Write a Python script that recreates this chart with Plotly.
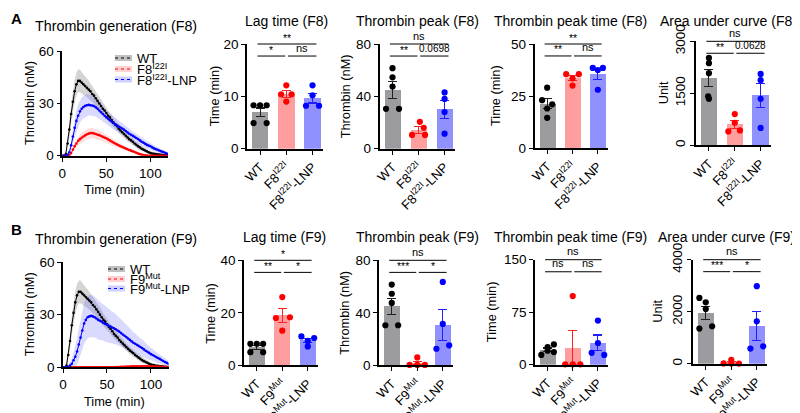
import numpy as np
import plotly.graph_objects as go

W, H = 800, 413
FONT = "Liberation Sans, Arial, sans-serif"

# ---------------- data ----------------
time_min = list(range(0, 121, 2))

wt_mean = [0, 0, 1, 7, 15, 24, 31, 37, 41, 43,
           43, 42, 41, 40, 39, 38, 37, 35.5, 34.5, 33,
           31.5, 30, 28.5, 27, 26, 24.5, 23, 22, 20.5, 19,
           18, 17, 15.5, 14.5, 13.5, 12.5, 11.5, 10.5, 9.5, 8.8,
           8, 7, 6.3, 5.5, 4.8, 4, 3.5, 3, 2.5, 2,
           1.5, 1.3, 1.1, 0.9, 0.8, 0.6, 0.5, 0.4, 0.3, 0.2, 0.2]
wt_sem = [0, 0, 1, 3, 4.5, 5.5, 6, 6.5, 6.5, 6.5,
          6.5, 6, 6, 5.5, 5.5, 5, 5, 4.5, 4.5, 4.5,
          4, 4, 4, 3.5, 3.5, 3.5, 3, 3, 3, 3,
          2.8, 2.8, 2.5, 2.5, 2.5, 2.3, 2.3, 2, 2, 2,
          2, 1.8, 1.8, 1.6, 1.6, 1.5, 1.5, 1.3, 1.3, 1.2,
          1.2, 1, 1, 1, 0.8, 0.8, 0.7, 0.7, 0.6, 0.6, 0.5]

f8_mean = [0, 0, 0, 0, 0.3, 1.5, 3.5, 5.5, 7, 8.5,
           9.5, 10.3, 11, 11.7, 12.3, 12.7, 13, 13, 12.8, 12.5,
           12, 11.8, 11.3, 10.8, 10.4, 10, 9.4, 8.8, 8.2, 7.6,
           7, 6.5, 6, 5.5, 5, 4.5, 4.1, 3.7, 3.3, 2.9,
           2.5, 2.1, 1.7, 1.3, 0.9, 0.6, 0.4, 0.2, 0.1, 0,
           0, 0, 0, 0, 0, 0, 0, 0, 0, 0, 0]
f8_sem = [0, 0, 0, 0, 0.3, 1, 1.5, 2, 2.3, 2.5,
          2.7, 2.8, 3, 3, 3, 3, 3, 3, 3, 3,
          3, 2.8, 2.8, 2.6, 2.5, 2.4, 2.3, 2.2, 2, 2,
          1.8, 1.7, 1.6, 1.5, 1.4, 1.3, 1.2, 1.1, 1, 1,
          0.9, 0.8, 0.7, 0.6, 0.5, 0.4, 0.3, 0.2, 0.1, 0,
          0, 0, 0, 0, 0, 0, 0, 0, 0, 0, 0]

f8lnp_mean = [0, 0, 0, 0.5, 2, 6, 11, 16, 20, 23,
              25.5, 27, 28, 28.7, 29, 29.2, 29, 28.8, 28.5, 27.8,
              27, 26, 25, 24, 23, 22, 21.2, 20.4, 19.6, 18.8,
              18, 17.4, 16.8, 16.2, 15.6, 15, 14.2, 13.4, 12.6, 12,
              11.4, 10.8, 10.2, 9.6, 8.8, 8, 7.4, 6.8, 6.2, 5.8,
              5.4, 4.8, 4.2, 3.8, 3.4, 3, 2.6, 2.2, 1.8, 1.4, 1]
f8lnp_sem = [0, 0, 0, 0.5, 1.5, 3, 4.5, 5.5, 6, 6.5,
             6.5, 6.5, 6.5, 6.5, 6.5, 6, 6, 6, 5.5, 5.5,
             5, 5, 4.5, 4.5, 4.5, 4, 4, 4, 3.8, 3.8,
             3.5, 3.5, 3.3, 3.3, 3.2, 3, 3, 2.8, 2.8, 2.6,
             2.5, 2.5, 2.4, 2.4, 2.3, 2.2, 2.2, 2, 2, 2,
             1.9, 1.8, 1.7, 1.6, 1.5, 1.4, 1.3, 1.2, 1.1, 1, 1]

f9_mean = [0, 0, 0, 0, 0, 0, 0, 0, 0, 0,
           0, 0, 0, 0, 0, 0, 0, 0, 0, 0,
           0, 0, 0, 0, 0, 0, 0, 0, 0, 0,
           0.1, 0.2, 0.2, 0.3, 0.3, 0.3, 0.4, 0.4, 0.4, 0.5,
           0.5, 0.5, 0.5, 0.6, 0.6, 0.6, 0.6, 0.6, 0.5, 0.5,
           0.5, 0.5, 0.4, 0.4, 0.4, 0.3, 0.3, 0.3, 0.2, 0.2, 0.2]
f9_sem = [0, 0, 0, 0, 0, 0, 0, 0, 0, 0,
          0, 0, 0, 0, 0, 0, 0, 0, 0, 0,
          0, 0, 0, 0, 0, 0, 0, 0, 0, 0,
          0.2, 0.2, 0.3, 0.3, 0.3, 0.4, 0.4, 0.4, 0.5, 0.5,
          0.5, 0.5, 0.5, 0.5, 0.5, 0.5, 0.5, 0.5, 0.5, 0.5,
          0.4, 0.4, 0.4, 0.4, 0.3, 0.3, 0.3, 0.3, 0.2, 0.2, 0.2]

f9lnp_mean = [0, 0, 0, 0.3, 1, 2, 4, 6, 9, 13,
              17, 21, 25, 27, 28.5, 29, 29.3, 29, 28.5, 27.8,
              27, 26.5, 26, 25.3, 24.7, 24.2, 23.7, 23.2, 22.7, 22.2,
              21.7, 21, 20.3, 19.5, 18.7, 18, 17.2, 16.4, 15.6, 14.8,
              14, 13.4, 12.8, 12.2, 11.6, 11, 10.2, 9.4, 8.8, 8.2,
              7.5, 7, 6.4, 5.8, 5.3, 4.8, 4.2, 3.6, 3, 2.5, 2]
f9lnp_sem = [0, 0, 0, 0.5, 1.5, 3, 4.5, 6, 7.5, 9,
             10, 11, 11.5, 12, 12, 12, 12, 12, 11.5, 11.5,
             11, 11, 10.5, 10.5, 10, 10, 9.5, 9.5, 9, 9,
             8.5, 8.5, 8, 8, 7.5, 7.5, 7, 7, 6.5, 6.5,
             6, 6, 5.5, 5.5, 5, 5, 4.5, 4.5, 4, 4,
             3.5, 3.5, 3, 3, 2.8, 2.6, 2.4, 2.2, 2, 1.8, 1.6]

groups_f8 = ["WT", "F8<sup>I22I</sup>", "F8<sup>I22I</sup>-LNP"]
groups_f9 = ["WT", "F9<sup>Mut</sup>", "F9<sup>Mut</sup>-LNP"]

# individual animals (WT, mutant, mutant-LNP)
lag_f8 = [[8.3, 8.3, 8.3, 4.9, 4.9], [12.1, 10.4, 10.4, 9.0], [12.1, 10.2, 8.2, 8.2]]
peak_f8 = [[61.5, 54.5, 47.5, 30.5, 30.5], [20.5, 16.0, 10.5, 10.5], [43.0, 38.0, 28.0, 11.5]]
ptime_f8 = [[29.0, 23.0, 21.0, 19.0, 14.5], [35.5, 35.5, 33.5, 30.0], [38.5, 38.5, 37.5, 28.0]]
auc_f8 = [[2520, 2370, 2080, 1410, 1340], [900, 650, 400, 430], [2060, 1880, 1340, 500]]

lag_f9 = [[8.2, 8.2, 8.2, 5.0, 5.0], [26.0, 18.3, 18.0, 13.2], [11.0, 10.4, 9.3, 7.2]]
peak_f9 = [[61.5, 54.5, 47.5, 30.5, 30.5], [6.0, 0.3, 0.3, 0.3], [63.5, 31.5, 15.2, 12.6]]
ptime_f9 = [[29.0, 25.0, 20.0, 18.0, 14.0], [98.0, 0.5, 0.5, 0.5], [63.0, 31.0, 17.0, 14.0]]
auc_f9 = [[2530, 2360, 2100, 1440, 1350], [150, 10, 5, 5], [2980, 1630, 670, 580]]

# significance labels: (WT vs LNP, WT vs mutant, mutant vs LNP)
sig_lag_f8 = ["**", "*", "ns"]
sig_peak_f8 = ["ns", "**", "0.0698"]
sig_ptime_f8 = ["**", "**", "ns"]
sig_auc_f8 = ["ns", "**", "0.0628"]
sig_lag_f9 = ["*", "**", "*"]
sig_peak_f9 = ["ns", "***", "*"]
sig_ptime_f9 = ["ns", "ns", "ns"]
sig_auc_f9 = ["ns", "***", "*"]

# ---------------- styling / layout ----------------
C_DOT = ["#000000", "#ff0000", "#0000ff"]
C_BAR = ["#9c9ca0", "#ff9e9e", "#9090ff"]
C_ERR = ["#202020", "#ff2020", "#2020ff"]
TITLE_SIZE = 14

jit = {
    "lag_f8": [[-0.25, 0, 0.25, -0.25, 0.25], [0, -0.2, 0.2, 0], [0, 0, -0.25, 0.25]],
    "peak_f8": [[0, 0, 0, -0.25, 0.25], [0.05, 0.2, -0.25, 0.25], [0, 0, 0, 0]],
    "ptime_f8": [[0, -0.2, 0.2, 0, 0], [-0.25, 0.25, 0, 0], [-0.2, 0.2, 0, 0]],
    "auc_f8": [[0, 0, 0, -0.03, 0], [0, 0, -0.25, 0.2], [0, 0, 0, 0]],
    "lag_f9": [[-0.25, 0, 0.25, -0.25, 0.25], [0, 0.3, -0.25, 0], [-0.25, 0.25, 0, 0]],
    "peak_f9": [[0, 0, 0, -0.25, 0.25], [0, -0.3, 0, 0.3], [0, 0, 0.25, -0.25]],
    "ptime_f9": [[0.25, 0, 0, 0.25, -0.25], [0, -0.3, 0, 0.3], [0, 0, -0.25, 0.25]],
    "auc_f9": [[-0.25, 0, 0, 0.25, -0.25], [0, -0.3, 0, 0.3], [0, 0, 0.25, -0.25]],
}

XR_BAR = [-0.5, 2.4]
# name, data, sig, groups, box px (l, r, t, b), yrange, yticks, ytitle, tick angle,
# title, title x, title y, ytitle x
bar_panels = [
    ("lag_f8", lag_f8, sig_lag_f8, groups_f8, (239, 315, 36, 140.7), [0, 20], [0, 10, 20], "Time (min)", 0, "Lag time (F8)", 278, 13, 206),
    ("peak_f8", peak_f8, sig_peak_f8, groups_f8, (371.5, 447, 36, 140.7), [0, 80], [0, 40, 80], "Thrombin (nM)", 0, "Thrombin peak (F8)", 409, 13, 337),
    ("ptime_f8", ptime_f8, sig_ptime_f8, groups_f8, (526.5, 600, 36, 140), [0, 50], [0, 25, 50], "Time (min)", 0, "Thrombin peak time (F8)", 562, 13, 487),
    ("auc_f8", auc_f8, sig_auc_f8, groups_f8, (688, 763, 33.3, 137.3), [0, 3000], [0, 1500, 3000], "Unit", -90, "Area under curve (F8)", 720, 13, 655),
    ("lag_f9", lag_f9, sig_lag_f9, groups_f9, (236, 310, 252.3, 357.3), [0, 40], [0, 20, 40], "Time (min)", 0, "Lag time (F9)", 276, 229, 203),
    ("peak_f9", peak_f9, sig_peak_f9, groups_f9, (371, 445, 252.3, 357.3), [0, 80], [0, 40, 80], "Thrombin (nM)", 0, "Thrombin peak (F9)", 409, 229, 337),
    ("ptime_f9", ptime_f9, sig_ptime_f9, groups_f9, (527, 600, 251.7, 356.7), [0, 150], [0, 75, 150], "Time (min)", 0, "Thrombin peak time (F9)", 562, 229, 483),
    ("auc_f9", auc_f9, sig_auc_f9, groups_f9, (685, 759, 251.7, 355.7), [0, 4000], [0, 2000, 4000], "Unit", -90, "Area under curve (F9)", 718, 229, 650),
]

curve_panels = [
    # box, series list, title, title y, legend names, legend y px, legend x px, x-title y
    ((54.3, 160, 43.3, 147.7),
     [(wt_mean, wt_sem, "#000000", "rgba(150,150,150,0.40)", "rgba(150,150,150,0.6)"),
      (f8_mean, f8_sem, "#ff0000", "rgba(255,110,110,0.22)", "rgba(255,110,110,0.3)"),
      (f8lnp_mean, f8lnp_sem, "#0000ff", "rgba(100,100,255,0.24)", "rgba(100,100,255,0.3)")],
     "Thrombin generation (F8)", 18, ["WT", "F8<sup>I22I</sup>", "F8<sup>I22I</sup>-LNP"],
     [50, 61, 71.5], 107, 182),
    ((55, 160.5, 254, 359.3),
     [(wt_mean, wt_sem, "#000000", "rgba(150,150,150,0.40)", "rgba(150,150,150,0.6)"),
      (f9_mean, f9_sem, "#ff0000", "rgba(255,110,110,0.22)", "rgba(255,110,110,0.3)"),
      (f9lnp_mean, f9lnp_sem, "#0000ff", "rgba(100,100,255,0.24)", "rgba(100,100,255,0.3)")],
     "Thrombin generation (F9)", 230.5, ["WT", "F9<sup>Mut</sup>", "F9<sup>Mut</sup>-LNP"],
     [261, 271, 280.5], 100, 393),
]


def px2x(px):
    return px / W


def px2y(py):
    return 1 - py / H


def ann(text, xpx, ypx, size, xanchor="center", yanchor="middle", angle=0, **kw):
    d = dict(text=text, x=px2x(xpx), y=px2y(ypx), xref="paper", yref="paper", showarrow=False,
             xanchor=xanchor, yanchor=yanchor, textangle=angle, font=dict(size=size))
    d.update(kw)
    return d


fig = go.Figure()
layout = dict(
    width=W, height=H, margin=dict(l=0, r=0, t=0, b=0, pad=0),
    paper_bgcolor="white", plot_bgcolor="white", showlegend=False,
    template="none", font=dict(family=FONT, size=13, color="black"),
)
shapes, annotations = [], []

axis_common = dict(showline=True, linecolor="black", linewidth=1.6, ticks="outside",
                   ticklen=4, tickwidth=1.4, tickcolor="black", showgrid=False,
                   zeroline=False, automargin=False, tickfont=dict(family=FONT, size=13.5))

ax_i = 0


def new_axes(box, xr, yr):
    global ax_i
    ax_i += 1
    sfx = "" if ax_i == 1 else str(ax_i)
    l, r, t, b = box
    xa = dict(axis_common, domain=[px2x(l), px2x(r)], range=xr, anchor="y" + sfx)
    ya = dict(axis_common, domain=[px2y(b), px2y(t)], range=yr, anchor="x" + sfx)
    return sfx, xa, ya


# ---- curve panels ----
for box, series, title, ty, names, leg_y, leg_x, xty in curve_panels:
    sfx, xa, ya = new_axes(box, [0, 120], [0, 60])
    xa.update(tickvals=[0, 50, 100])
    ya.update(tickvals=[0, 30, 60])
    layout["xaxis" + sfx] = xa
    layout["yaxis" + sfx] = ya
    for mean, sem, col, band, legband in series:
        m = np.array(mean, float)
        s = np.array(sem, float)
        up = m + s
        lo = np.clip(m - s, 0, None)
        fig.add_trace(go.Scatter(x=time_min + time_min[::-1], y=list(up) + list(lo[::-1]),
                                 fill="toself", fillcolor=band, line=dict(width=0),
                                 mode="lines", hoverinfo="skip", xaxis="x" + sfx, yaxis="y" + sfx))
    for mean, sem, col, band, legband in series:
        fig.add_trace(go.Scatter(x=time_min, y=mean, mode="lines+markers",
                                 line=dict(color=col, width=1), marker=dict(color=col, size=2.6),
                                 xaxis="x" + sfx, yaxis="y" + sfx, cliponaxis=True))
    l, r, t, b = box
    annotations.append(ann(title, 108, ty, TITLE_SIZE + 0.3))
    annotations.append(ann("Time (min)", (l + r) / 2 - 1, xty, 12.8))
    annotations.append(ann("Thrombin (nM)", 21.5, (t + b) / 2, 12.8, angle=-90))
    # legend
    for (mean, sem, col, band, legband), nm, ly in zip(series, names, leg_y):
        shapes.append(dict(type="line", xref="paper", yref="paper", x0=px2x(leg_x), x1=px2x(leg_x + 17),
                           y0=px2y(ly), y1=px2y(ly), line=dict(color=legband, width=6)))
        shapes.append(dict(type="line", xref="paper", yref="paper", x0=px2x(leg_x), x1=px2x(leg_x + 17),
                           y0=px2y(ly), y1=px2y(ly), line=dict(color=col, width=1.2, dash="dot")))
        annotations.append(ann(nm, leg_x + 20, ly, 13, xanchor="left"))

# ---- bar panels ----
for key, vals, sig, groups, box, yr, yt, ytitle, yang, title, tx, ty, ytx in bar_panels:
    sfx, xa, ya = new_axes(box, XR_BAR, yr)
    xa.update(tickvals=[0, 1, 2], ticktext=groups, tickangle=-45, tickfont=dict(family=FONT, size=13))
    ya.update(tickvals=yt, tickangle=yang)
    layout["xaxis" + sfx] = xa
    layout["yaxis" + sfx] = ya
    means = [float(np.mean(v)) for v in vals]
    sems = [float(np.std(v, ddof=1) / np.sqrt(len(v))) for v in vals]
    for g in range(3):
        fig.add_trace(go.Bar(x=[g], y=[means[g]], width=0.64, marker=dict(color=C_BAR[g], line=dict(width=0)),
                             error_y=dict(type="data", array=[sems[g]], color=C_ERR[g], thickness=1.1, width=4.5),
                             xaxis="x" + sfx, yaxis="y" + sfx))
    for g in range(3):
        fig.add_trace(go.Scatter(x=[g + o for o in jit[key][g]], y=vals[g], mode="markers",
                                 marker=dict(color=C_DOT[g], size=6.2), cliponaxis=False,
                                 xaxis="x" + sfx, yaxis="y" + sfx))
    l, r, t, b = box

    def dxp(v):
        return l + (v - XR_BAR[0]) / (XR_BAR[1] - XR_BAR[0]) * (r - l)

    def dyp(v):
        return b - (v - yr[0]) / (yr[1] - yr[0]) * (b - t)

    top = yr[1]
    low = yr[1] * 0.885
    brackets = [(-0.1, 2.15, top, sig[0]), (-0.1, 0.96, low, sig[1]), (1.06, 2.15, low, sig[2])]
    for x0, x1, yv, s in brackets:
        shapes.append(dict(type="line", xref="paper", yref="paper", x0=px2x(dxp(x0)), x1=px2x(dxp(x1)),
                           y0=px2y(dyp(yv)), y1=px2y(dyp(yv)), line=dict(color="black", width=1)))
        fs = 11 if s == "ns" else (10 if s.startswith("0") else 10.5)
        annotations.append(ann(s, (dxp(x0) + dxp(x1)) / 2, dyp(yv) - 0.5, fs, yanchor="bottom",
                               yshift=-2 if "*" in s else 0))
    annotations.append(ann(title, tx, ty, TITLE_SIZE))
    annotations.append(ann(ytitle, ytx, (t + b) / 2, 12.8, angle=-90))

# panel letters
annotations.append(ann("<b>A</b>", 8, 10, 15))
annotations.append(ann("<b>B</b>", 8, 222, 15))

layout["shapes"] = shapes
layout["annotations"] = annotations
layout["bargap"] = 0
fig.update_layout(**layout)
fig.write_html("out.html")
